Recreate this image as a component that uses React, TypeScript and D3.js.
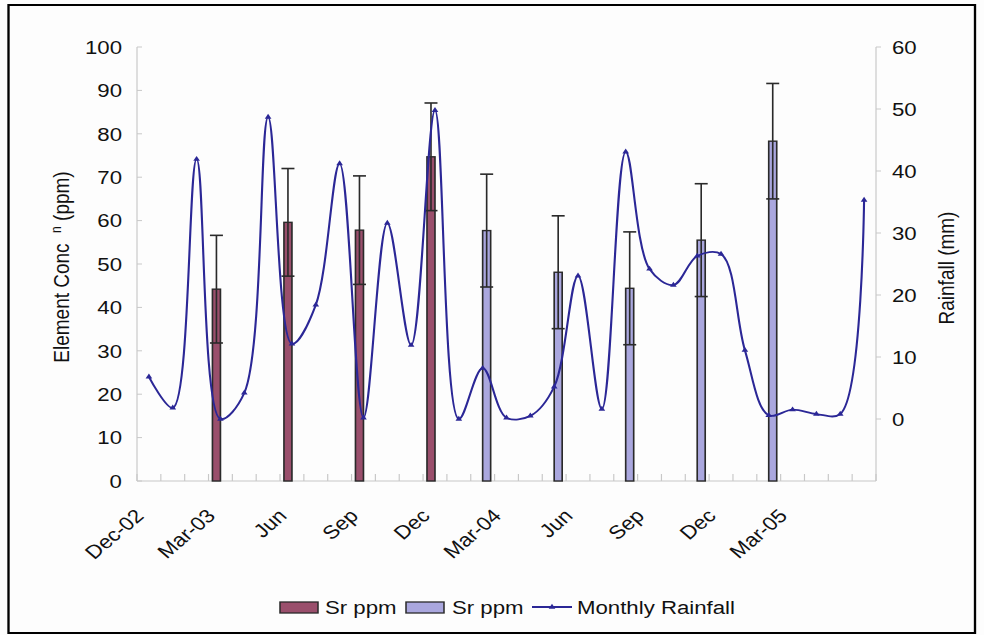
import React from "react";
import * as d3 from "d3";

// Monthly categories on the shared x axis
const months = [
  "Dec-02", "Jan-03", "Feb-03", "Mar-03", "Apr-03", "May-03", "Jun-03", "Jul-03",
  "Aug-03", "Sep-03", "Oct-03", "Nov-03", "Dec-03", "Jan-04", "Feb-04", "Mar-04",
  "Apr-04", "May-04", "Jun-04", "Jul-04", "Aug-04", "Sep-04", "Oct-04", "Nov-04",
  "Dec-04", "Jan-05", "Feb-05", "Mar-05", "Apr-05", "May-05", "Jun-05",
];

// Monthly rainfall (mm), right axis
const rainfall = [
  6.8, 1.8, 41.9, 0, 4.2, 48.7, 12.1, 18.4,
  41.2, 0.2, 31.6, 11.9, 49.8, 0, 8.2, 0.2,
  0.5, 5.2, 23.1, 1.6, 43.1, 24.2, 21.6, 26.3,
  26.6, 11.1, 0.6, 1.5, 0.8, 0.8, 35.3,
];

// Sr concentration, first sampling series (ppm) with ± error
const srMonthsA = ["Mar-03", "Jun-03", "Sep-03", "Dec-03"];
const srValuesA = [44.2, 59.6, 57.8, 74.7];
const srErrorsA = [12.4, 12.4, 12.5, 12.4];

// Sr concentration, second sampling series (ppm) with ± error
const srMonthsB = ["Feb-04", "May-04", "Aug-04", "Nov-04", "Feb-05"];
const srValuesB = [57.7, 48.1, 44.4, 55.5, 78.3];
const srErrorsB = [13, 13, 13, 13, 13.3];

// Axis ticks
const tickMonths = ["Dec-02", "Mar-03", "Jun-03", "Sep-03", "Dec-03", "Mar-04", "Jun-04", "Sep-04", "Dec-04", "Mar-05"];
const tickLabels = ["Dec-02", "Mar-03", "Jun", "Sep", "Dec", "Mar-04", "Jun", "Sep", "Dec", "Mar-05"];
const leftTicks = [0, 10, 20, 30, 40, 50, 60, 70, 80, 90, 100];
const rightTicks = [0, 10, 20, 30, 40, 50, 60];

const W = 984;
const H = 635;
const SX = 1.17; // horizontal stretch of the whole drawing
const sx = (v: number) => v / SX;

const FONT = "'Liberation Sans', Arial, Helvetica, sans-serif";
const RED = "#9a4f6c";
const LAV = "#aaa7de";
const LINE = "#2b2796";
const EDGE = "#2a2a2a";
const AXIS = "#c8c8c8";

export default function App() {
  const x = d3.scaleBand<string>().domain(months).range([sx(137), sx(876)]).padding(0);
  const inner = d3.scaleBand<string>().domain(["a", "b"]).range([-sx(8), sx(8)]).padding(0);
  const yL = d3.scaleLinear().domain([0, 100]).range([481, 47]);
  const yR = d3.scaleLinear().domain([-10, 60]).range([481, 47]);
  const cx = (m: string) => (x(m) as number) + x.bandwidth() / 2;

  const linePath = d3
    .line<number>()
    .x((_, i) => cx(months[i]))
    .y((d) => yR(d))
    .curve(d3.curveCatmullRom.alpha(0.5))(rainfall) as string;

  const tri = d3.symbol(d3.symbolTriangle, 14)() as string;

  const bars = [
    ...srMonthsA.map((m, i) => ({ m, v: srValuesA[i], e: srErrorsA[i], key: "a", fill: RED })),
    ...srMonthsB.map((m, i) => ({ m, v: srValuesB[i], e: srErrorsB[i], key: "b", fill: LAV })),
  ];

  const boundaries = d3.range(months.length + 1).map((k) => sx(137) + k * x.bandwidth());
  const capW = sx(6.5);

  return (
    <svg
      width={W}
      height={H}
      viewBox={`0 0 ${W / SX} ${H}`}
      preserveAspectRatio="none"
      style={{ position: "absolute", left: 0, top: 0, display: "block", background: "#fdfdfd" }}
      fontFamily={FONT}
    >
      <rect x={0} y={0} width={W / SX} height={H} fill="#fdfdfd" />
      {/* outer frame */}
      <rect x={sx(8.5)} y={5} width={sx(975 - 8.5)} height={628} fill="none" stroke="#000" strokeWidth={2} />

      {/* axes */}
      <line x1={sx(137)} x2={sx(137)} y1={47} y2={481} stroke={AXIS} strokeWidth={1} />
      <line x1={sx(876)} x2={sx(876)} y1={47} y2={481} stroke={AXIS} strokeWidth={1} />
      <line x1={sx(137)} x2={sx(876)} y1={481} y2={481} stroke={AXIS} strokeWidth={1} />
      {leftTicks.map((t) => (
        <line key={"lt" + t} x1={sx(137)} x2={sx(142)} y1={yL(t)} y2={yL(t)} stroke={AXIS} />
      ))}
      {rightTicks.map((t) => (
        <line key={"rt" + t} x1={sx(876)} x2={sx(881)} y1={yR(t)} y2={yR(t)} stroke={AXIS} />
      ))}
      {boundaries.map((b, k) => (
        <line key={"xt" + k} x1={b} x2={b} y1={474} y2={481} stroke={AXIS} />
      ))}

      {/* left tick labels */}
      {leftTicks.map((t) => (
        <text key={"ll" + t} x={sx(122)} y={yL(t)} dy="0.36em" textAnchor="end" fontSize={19} fill="#111">
          {t}
        </text>
      ))}
      {/* right tick labels */}
      {rightTicks.map((t) => (
        <text key={"rl" + t} x={sx(892)} y={yR(t)} dy="0.36em" textAnchor="start" fontSize={19} fill="#111">
          {t}
        </text>
      ))}

      {/* x tick labels */}
      {tickMonths.map((m, i) => (
        <text
          key={"xl" + m}
          transform={`translate(${cx(m) - sx(4)},517) rotate(-45)`}
          textAnchor="end"
          fontSize={19}
          fill="#111"
        >
          {tickLabels[i]}
        </text>
      ))}

      {/* axis titles */}
      <text transform={`translate(${sx(61)},267) rotate(-90)`} textAnchor="middle" dy="0.35em" fontSize={19} fill="#111">
        {"Element Conc\u00a0\u00a0"}
        <tspan dy={-7} fontSize={12}>n</tspan>
        <tspan dy={7}>{"\u00a0(ppm)"}</tspan>
      </text>
      <text transform={`translate(${sx(946)},268) rotate(-90)`} textAnchor="middle" dy="0.35em" fontSize={19} fill="#111">
        Rainfall (mm)
      </text>

      {/* Sr bars with error bars */}
      {bars.map((b) => {
        const bx = cx(b.m) + (inner(b.key) as number);
        const mid = bx + inner.bandwidth() / 2;
        return (
          <g key={"bar" + b.m}>
            <rect
              x={bx}
              y={yL(b.v)}
              width={inner.bandwidth()}
              height={yL(0) - yL(b.v)}
              fill={b.fill}
              stroke={EDGE}
              strokeWidth={1.4}
            />
            <line x1={mid} x2={mid} y1={yL(b.v - b.e)} y2={yL(b.v + b.e)} stroke={EDGE} strokeWidth={1.4} />
            <line x1={mid - capW} x2={mid + capW} y1={yL(b.v + b.e)} y2={yL(b.v + b.e)} stroke={EDGE} strokeWidth={1.6} />
            <line x1={mid - capW} x2={mid + capW} y1={yL(b.v - b.e)} y2={yL(b.v - b.e)} stroke={EDGE} strokeWidth={1.6} />
          </g>
        );
      })}

      {/* monthly rainfall */}
      <path d={linePath} fill="none" stroke={LINE} strokeWidth={1.8} />
      {rainfall.map((r, i) => (
        <path key={"mk" + i} d={tri} transform={`translate(${cx(months[i])},${yR(r)})`} fill={LINE} />
      ))}

      {/* legend */}
      <rect x={sx(280)} y={602} width={sx(38)} height={11} fill={RED} stroke={EDGE} strokeWidth={1.3} />
      <text x={sx(325)} y={614} fontSize={19} fill="#111">Sr ppm</text>
      <rect x={sx(406)} y={602} width={sx(38)} height={11} fill={LAV} stroke={EDGE} strokeWidth={1.3} />
      <text x={sx(452)} y={614} fontSize={19} fill="#111">Sr ppm</text>
      <line x1={sx(532)} x2={sx(572)} y1={607} y2={607} stroke={LINE} strokeWidth={1.8} />
      <path d={tri} transform={`translate(${sx(552)},607)`} fill={LINE} />
      <text x={sx(577)} y={614} fontSize={19} fill="#111">Monthly Rainfall</text>
    </svg>
  );
}
